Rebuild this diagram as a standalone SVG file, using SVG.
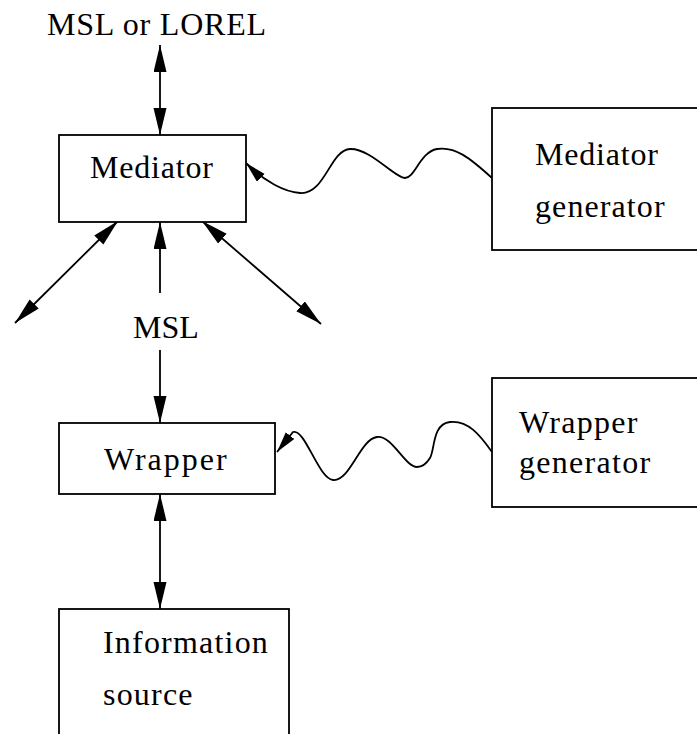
<svg xmlns="http://www.w3.org/2000/svg" width="697" height="734" viewBox="0 0 697 734">
<style>
  .box { fill: #fff; stroke: #000; stroke-width: 1.8; }
  .ln { fill: none; stroke: #000; stroke-width: 1.8; }
</style>
<defs>
  <marker id="ah" markerUnits="userSpaceOnUse" markerWidth="28" markerHeight="14" refX="27" refY="6.5" orient="auto-start-reverse" viewBox="0 0 28 14">
    <path d="M0,0 L27,6.5 L0,13 z" fill="#000"/>
  </marker>
  <marker id="wh" markerUnits="userSpaceOnUse" markerWidth="22" markerHeight="12" refX="21" refY="5.5" orient="auto" viewBox="0 0 22 12">
    <path d="M0,0 L21,5.5 L0,11 z" fill="#000"/>
  </marker>
</defs>
<rect width="697" height="734" fill="#fff"/>
<g id="connectors">
  <line class="ln" x1="160" y1="45" x2="160" y2="135" marker-start="url(#ah)" marker-end="url(#ah)"/>
  <line class="ln" x1="160" y1="293" x2="160" y2="222" marker-end="url(#ah)"/>
  <line class="ln" x1="160" y1="350" x2="160" y2="423" marker-end="url(#ah)"/>
  <line class="ln" x1="118" y1="221" x2="15" y2="323" marker-start="url(#ah)" marker-end="url(#ah)"/>
  <line class="ln" x1="202" y1="221" x2="321" y2="324" marker-start="url(#ah)" marker-end="url(#ah)"/>
  <line class="ln" x1="160" y1="494" x2="160" y2="609" marker-start="url(#ah)" marker-end="url(#ah)"/>
  <path class="ln" d="M492,178 C470,158 455,146 437,149 C420,152 415,178 405,178 C395,178 370,148 350,149 C330,150 325,195 300,193 C285,192 265,182 246,163" marker-end="url(#wh)"/>
  <path class="ln" d="M492,452 C480,435 468,420 450,422 C432,424 435,450 430,458 C425,466 420,467 417,467 C405,467 392,435 377,437 C360,439 350,482 333,480 C318,478 305,428 293,432 L277,452" marker-end="url(#wh)"/>
</g>
<g id="query" font-family="Liberation Serif" font-size="32" letter-spacing="0.8">
  <text x="47" y="35">MSL or LOREL</text>
</g>
<g id="mediator" font-family="Liberation Serif" font-size="32" letter-spacing="0.8">
  <rect class="box" x="59" y="135" width="187" height="87"/>
  <text x="90" y="178">Mediator</text>
</g>
<g id="mediator-generator" font-family="Liberation Serif" font-size="32" letter-spacing="0.8">
  <rect class="box" x="492" y="108" width="210" height="142"/>
  <text x="535" y="165">Mediator</text>
  <text x="535" y="217" letter-spacing="1.1">generator</text>
</g>
<g id="msl-label" font-family="Liberation Serif" font-size="32" letter-spacing="0">
  <text x="133" y="338">MSL</text>
</g>
<g id="wrapper" font-family="Liberation Serif" font-size="32" letter-spacing="2">
  <rect class="box" x="59" y="423" width="216" height="71"/>
  <text x="104" y="470">Wrapper</text>
</g>
<g id="wrapper-generator" font-family="Liberation Serif" font-size="32" letter-spacing="1.3">
  <rect class="box" x="492" y="378" width="210" height="129"/>
  <text x="519" y="433">Wrapper</text>
  <text x="519" y="473">generator</text>
</g>
<g id="information-source" font-family="Liberation Serif" font-size="32" letter-spacing="1.2">
  <rect class="box" x="59" y="609" width="230" height="140"/>
  <text x="103" y="653">Information</text>
  <text x="103" y="705">source</text>
</g>
</svg>
